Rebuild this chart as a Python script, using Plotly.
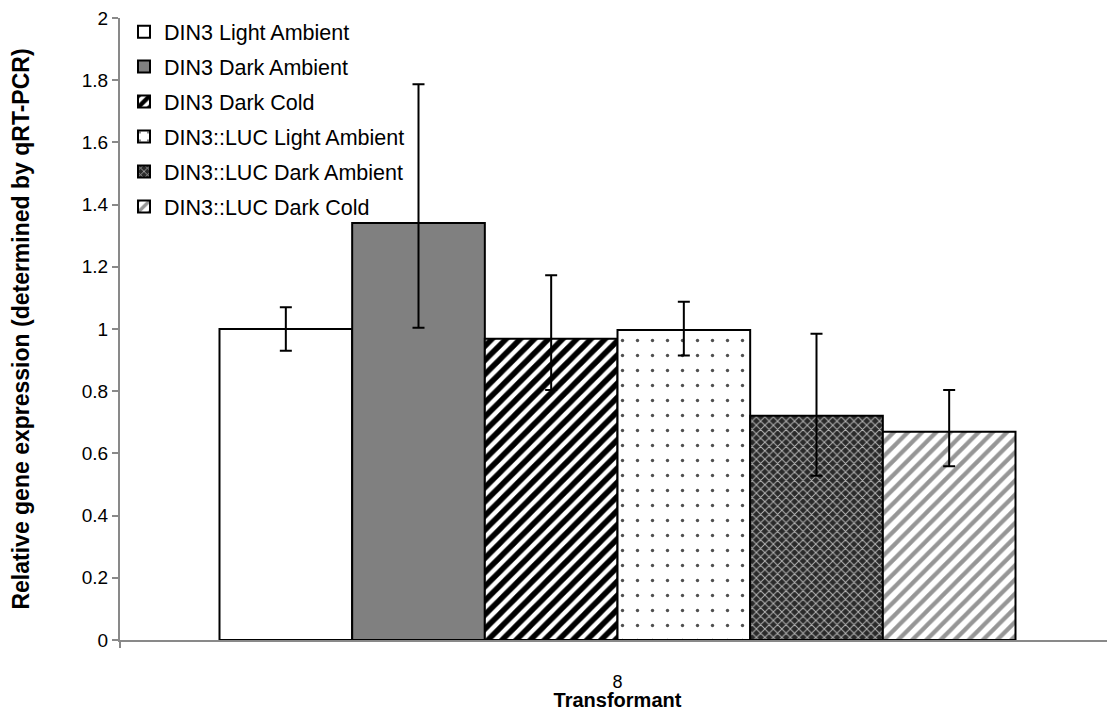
import plotly.graph_objects as go

categories = ["8"]
series_names = [
    "DIN3 Light Ambient",
    "DIN3 Dark Ambient",
    "DIN3 Dark Cold",
    "DIN3::LUC Light Ambient",
    "DIN3::LUC Dark Ambient",
    "DIN3::LUC Dark Cold",
]
values = [1.0, 1.341, 0.969, 0.997, 0.721, 0.670]
err_plus = [0.07, 0.446, 0.204, 0.091, 0.264, 0.134]
err_minus = [0.07, 0.337, 0.165, 0.082, 0.193, 0.111]
y_ticks = [0, 0.2, 0.4, 0.6, 0.8, 1.0, 1.2, 1.4, 1.6, 1.8, 2.0]
y_tick_labels = ["0", "0.2", "0.4", "0.6", "0.8", "1", "1.2", "1.4", "1.6", "1.8", "2"]

styles = [
    dict(color="white", pattern=dict(shape="")),
    dict(color="#808080", pattern=dict(shape="")),
    dict(color="white", pattern=dict(shape="/", fgcolor="black", bgcolor="white", size=10, solidity=0.55, fillmode="replace")),
    dict(color="white", pattern=dict(shape=".", fgcolor="#505050", bgcolor="white", size=15, solidity=0.04, fillmode="replace")),
    dict(color="#303030", pattern=dict(shape="x", fgcolor="#b4b4b4", bgcolor="#2a2a2a", size=6, solidity=0.3, fillmode="replace")),
    dict(color="white", pattern=dict(shape="/", fgcolor="#969696", bgcolor="white", size=10, solidity=0.42, fillmode="replace")),
]

FONT = "Liberation Sans, Arial, sans-serif"

fig = go.Figure()
for i, name in enumerate(series_names):
    st = styles[i]
    fig.add_trace(go.Bar(
        name=name,
        x=categories,
        y=[values[i]],
        legendgroup=f"g{i}",
        marker=dict(color=st["color"], pattern=st["pattern"], line=dict(color="black", width=2)),
        error_y=dict(type="data", symmetric=False, array=[err_plus[i]], arrayminus=[err_minus[i]],
                     color="black", thickness=2, width=6),
    ))

fig.update_layout(
    width=1107, height=703,
    margin=dict(l=112, r=0, t=10, b=71),
    paper_bgcolor="white", plot_bgcolor="white",
    barmode="group", bargap=0.2, bargroupgap=0,
    font=dict(family=FONT, size=19, color="black"),
    showlegend=True,
    legend=dict(
        x=0.004, y=1.011, xanchor="left", yanchor="top",
        font=dict(family=FONT, size=21.5, color="black"),
        traceorder="grouped", tracegroupgap=4,
        bgcolor="rgba(0,0,0,0)", itemwidth=30,
    ),
    xaxis=dict(
        type="category",
        showline=True, linecolor="#898989", linewidth=2,
        ticks="outside", tickson="boundaries", ticklen=6, tickcolor="#898989", tickwidth=2,
        tickfont=dict(family=FONT, size=18, color="black"),
        ticklabelstandoff=24,
        title=dict(text="<b>Transformant</b>", font=dict(family=FONT, size=20, color="black"), standoff=7),
        automargin=False, showgrid=False,
    ),
    yaxis=dict(
        range=[0, 2],
        tickvals=y_ticks, ticktext=y_tick_labels,
        showline=True, linecolor="#898989", linewidth=2,
        ticks="outside", ticklen=6, tickcolor="#898989", tickwidth=2,
        tickfont=dict(family=FONT, size=19, color="black"),
        ticklabeloverflow="allow",
        title=dict(text="<b>Relative gene expression (determined by qRT-PCR)</b>",
                   font=dict(family=FONT, size=23, color="black"), standoff=50),
        automargin=False, showgrid=False, zeroline=False,
    ),
)

fig.write_html("out.html")
